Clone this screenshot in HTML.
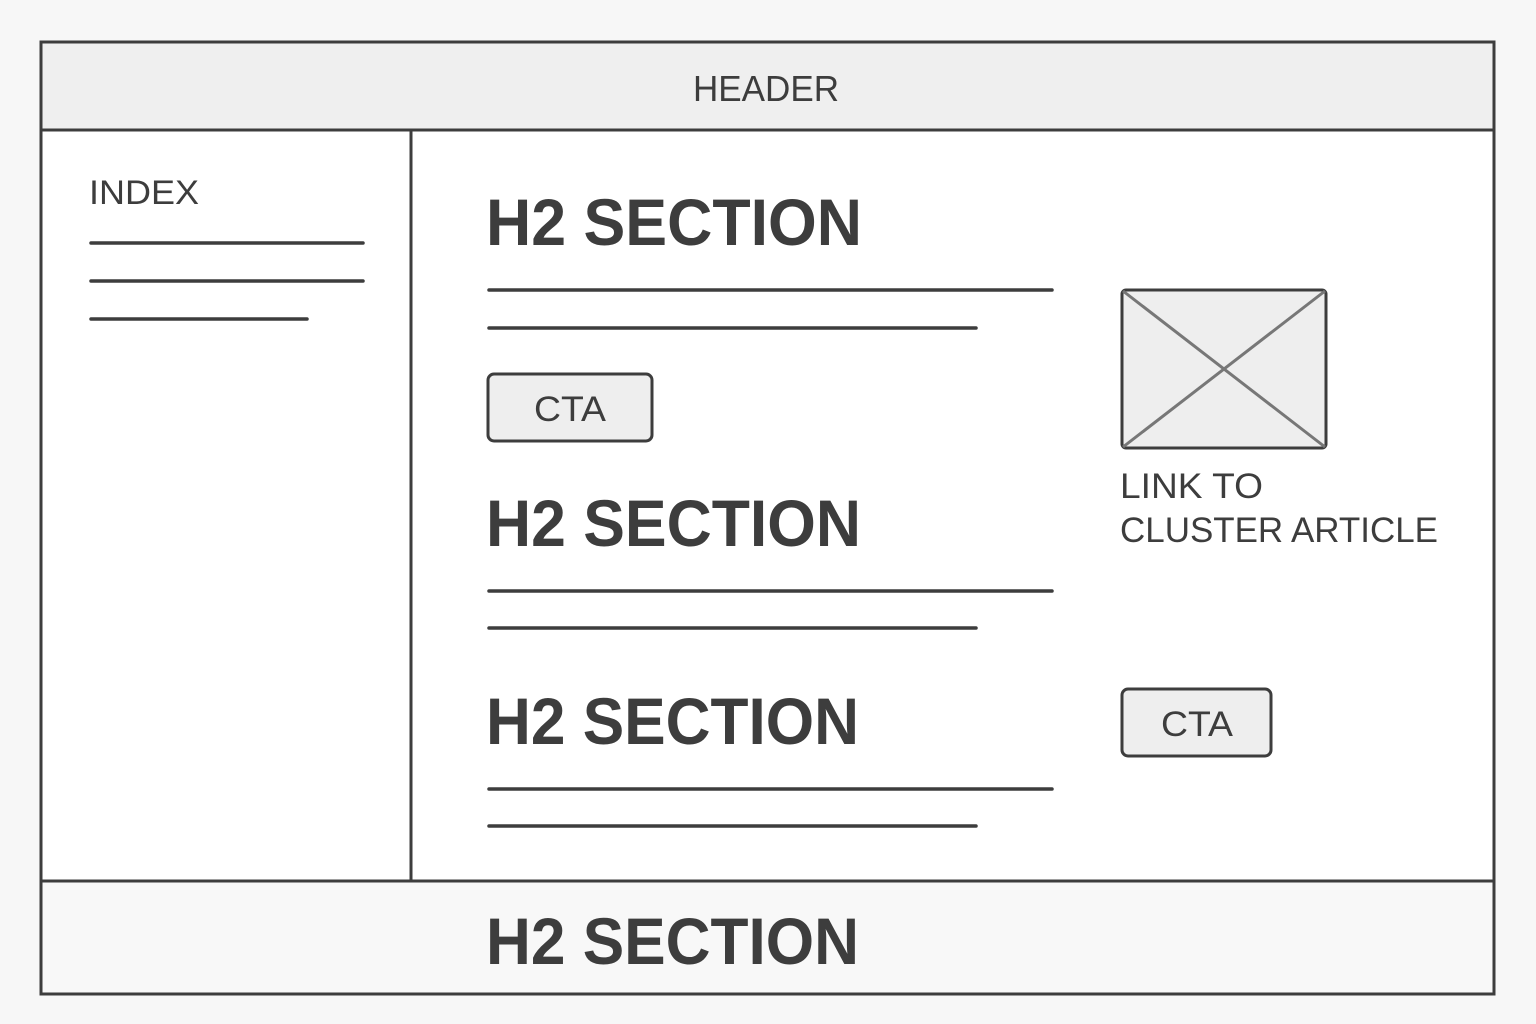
<!DOCTYPE html>
<html><head><meta charset="utf-8"><style>html,body{margin:0;padding:0;background:#f7f7f7}svg{display:block}</style></head>
<body>
<svg width="1536" height="1024" viewBox="0 0 1536 1024" xmlns="http://www.w3.org/2000/svg" font-family="Liberation Sans, sans-serif" fill="#3d3d3d">
<rect x="0" y="0" width="1536" height="1024" fill="#f7f7f7"/>
<rect x="41" y="42" width="1453" height="952" fill="#ffffff" stroke="#3d3d3d" stroke-width="3"/>
<rect x="41" y="42" width="1453" height="88" fill="#efefef" stroke="#3d3d3d" stroke-width="3"/>
<rect x="41" y="881" width="1453" height="113" fill="#f8f8f8" stroke="#3d3d3d" stroke-width="3"/>
<line x1="411" y1="131" x2="411" y2="880" stroke="#3d3d3d" stroke-width="3"/>
<text x="693" y="101" font-size="36" textLength="146" lengthAdjust="spacingAndGlyphs">HEADER</text>
<text x="89" y="204" font-size="34" textLength="110" lengthAdjust="spacingAndGlyphs">INDEX</text>
<g stroke="#3d3d3d" stroke-width="3.5" stroke-linecap="round">
<line x1="91" y1="243" x2="363" y2="243"/>
<line x1="91" y1="281" x2="363" y2="281"/>
<line x1="91" y1="319" x2="307" y2="319"/>
<line x1="489" y1="290" x2="1052" y2="290"/>
<line x1="489" y1="328" x2="976" y2="328"/>
<line x1="489" y1="591" x2="1052" y2="591"/>
<line x1="489" y1="628" x2="976" y2="628"/>
<line x1="489" y1="789" x2="1052" y2="789"/>
<line x1="489" y1="826" x2="976" y2="826"/>
</g>
<g font-size="66" font-weight="bold">
<text x="486" y="245" textLength="376" lengthAdjust="spacingAndGlyphs">H2 SECTION</text>
<text x="486" y="546" textLength="375" lengthAdjust="spacingAndGlyphs">H2 SECTION</text>
<text x="486" y="744" textLength="373" lengthAdjust="spacingAndGlyphs">H2 SECTION</text>
<text x="486" y="964" textLength="373" lengthAdjust="spacingAndGlyphs">H2 SECTION</text>
</g>
<rect x="488" y="374" width="164" height="67" rx="6" fill="#eeeeee" stroke="#3d3d3d" stroke-width="3"/>
<text x="534" y="421" font-size="35" textLength="72" lengthAdjust="spacingAndGlyphs">CTA</text>
<rect x="1122" y="689" width="149" height="67" rx="6" fill="#eeeeee" stroke="#3d3d3d" stroke-width="3"/>
<text x="1161" y="736" font-size="35" textLength="72" lengthAdjust="spacingAndGlyphs">CTA</text>
<rect x="1122" y="290" width="204" height="158" rx="4" fill="#eeeeee" stroke="#3d3d3d" stroke-width="3"/>
<line x1="1123" y1="291" x2="1325" y2="447" stroke="#777" stroke-width="3"/>
<line x1="1325" y1="291" x2="1123" y2="447" stroke="#777" stroke-width="3"/>
<text x="1120" y="498" font-size="35" textLength="143" lengthAdjust="spacingAndGlyphs">LINK TO</text>
<text x="1120" y="542" font-size="35" textLength="318" lengthAdjust="spacingAndGlyphs">CLUSTER ARTICLE</text>
</svg>
</body></html>
